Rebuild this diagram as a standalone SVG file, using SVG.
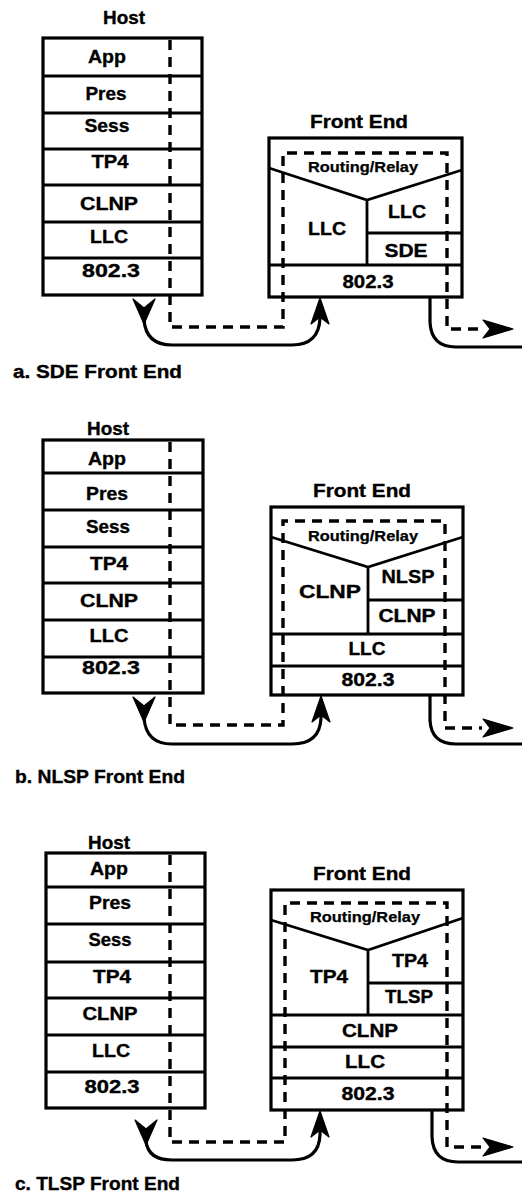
<svg xmlns="http://www.w3.org/2000/svg" width="522" height="1197" viewBox="0 0 522 1197">
  <style>
    .box { fill: none; stroke: #000; stroke-width: 3.2; }
    .sep { fill: none; stroke: #000; stroke-width: 2.8; }
    .t { font-family: "Liberation Sans", Arial, sans-serif; font-weight: bold; font-size: 18px; text-anchor: middle; fill: #000; stroke: #000; stroke-width: 0.35; }
    .rr { font-size: 14px; stroke-width: 0.25; }
    .cap { text-anchor: start; }
    .dash { fill: none; stroke: #000; stroke-width: 3.4; stroke-dasharray: 10 7; }
    .flow { fill: none; stroke: #000; stroke-width: 3.2; stroke-linecap: round; }
    .head { fill: #000; stroke: #000; stroke-width: 1.2; stroke-linejoin: round; }
  </style>
  <rect width="522" height="1197" fill="#fff"/>

  <!-- ===== a. SDE Front End ===== -->
  <g id="host-a">
    <text class="t" x="124" y="24" font-size="17" textLength="42" lengthAdjust="spacingAndGlyphs">Host</text>
    <rect class="box" x="43" y="38" width="159" height="257"/>
    <path class="sep" d="M43,76H202M43,113H202M43,149H202M43,185H202M43,222H202M43,258H202"/>
    <text class="t" x="107" y="63" textLength="38" lengthAdjust="spacingAndGlyphs">App</text>
    <text class="t" x="106" y="100" textLength="41" lengthAdjust="spacingAndGlyphs">Pres</text>
    <text class="t" x="107" y="132" textLength="45" lengthAdjust="spacingAndGlyphs">Sess</text>
    <text class="t" x="110" y="168" textLength="37" lengthAdjust="spacingAndGlyphs">TP4</text>
    <text class="t" x="109" y="210" textLength="58" lengthAdjust="spacingAndGlyphs">CLNP</text>
    <text class="t" x="109" y="243" textLength="38" lengthAdjust="spacingAndGlyphs">LLC</text>
    <text class="t" x="111" y="277" textLength="58" lengthAdjust="spacingAndGlyphs">802.3</text>
  </g>
  <g id="frontend-a">
    <text class="t" x="359" y="128" textLength="98" lengthAdjust="spacingAndGlyphs">Front End</text>
    <rect class="box" x="269" y="138" width="193" height="159"/>
    <path class="sep" d="M269,168L367,200L462,170M367,200V265M367,233H462M269,265H462"/>
    <text class="t rr" x="363" y="172" textLength="110" lengthAdjust="spacingAndGlyphs">Routing/Relay</text>
    <text class="t" x="327" y="235" textLength="38" lengthAdjust="spacingAndGlyphs">LLC</text>
    <text class="t" x="407" y="218" textLength="38" lengthAdjust="spacingAndGlyphs">LLC</text>
    <text class="t" x="406" y="257" textLength="43" lengthAdjust="spacingAndGlyphs">SDE</text>
    <text class="t" x="368" y="288" textLength="51" lengthAdjust="spacingAndGlyphs">802.3</text>
  </g>
  <text id="caption-a" class="t cap" x="13" y="378" textLength="169" lengthAdjust="spacingAndGlyphs">a. SDE Front End</text>

  <!-- ===== b. NLSP Front End ===== -->
  <g id="host-b">
    <text class="t" x="108" y="435" font-size="17" textLength="42" lengthAdjust="spacingAndGlyphs">Host</text>
    <rect class="box" x="43" y="440" width="160" height="253"/>
    <path class="sep" d="M43,473H203M43,510H203M43,547H203M43,583H203M43,620H203M43,657H203"/>
    <text class="t" x="107" y="465" textLength="38" lengthAdjust="spacingAndGlyphs">App</text>
    <text class="t" x="107" y="500" textLength="42" lengthAdjust="spacingAndGlyphs">Pres</text>
    <text class="t" x="108" y="533" textLength="44" lengthAdjust="spacingAndGlyphs">Sess</text>
    <text class="t" x="109" y="570" textLength="38" lengthAdjust="spacingAndGlyphs">TP4</text>
    <text class="t" x="109" y="607" textLength="58" lengthAdjust="spacingAndGlyphs">CLNP</text>
    <text class="t" x="109" y="642" textLength="39" lengthAdjust="spacingAndGlyphs">LLC</text>
    <text class="t" x="111" y="674" textLength="58" lengthAdjust="spacingAndGlyphs">802.3</text>
  </g>
  <g id="frontend-b">
    <text class="t" x="362" y="497" textLength="98" lengthAdjust="spacingAndGlyphs">Front End</text>
    <rect class="box" x="271" y="507" width="192" height="188"/>
    <path class="sep" d="M271,537L368,567L463,537M368,567V634M368,600H463M271,634H463M271,666H463"/>
    <text class="t rr" x="363" y="541" textLength="110" lengthAdjust="spacingAndGlyphs">Routing/Relay</text>
    <text class="t" x="330" y="598" textLength="62" lengthAdjust="spacingAndGlyphs">CLNP</text>
    <text class="t" x="408" y="583" textLength="53" lengthAdjust="spacingAndGlyphs">NLSP</text>
    <text class="t" x="407" y="622" textLength="57" lengthAdjust="spacingAndGlyphs">CLNP</text>
    <text class="t" x="367" y="655" textLength="37" lengthAdjust="spacingAndGlyphs">LLC</text>
    <text class="t" x="368" y="686" textLength="53" lengthAdjust="spacingAndGlyphs">802.3</text>
  </g>
  <text id="caption-b" class="t cap" x="15" y="783" textLength="170" lengthAdjust="spacingAndGlyphs">b. NLSP Front End</text>

  <!-- ===== c. TLSP Front End ===== -->
  <g id="host-c">
    <text class="t" x="109" y="849" font-size="17" textLength="42" lengthAdjust="spacingAndGlyphs">Host</text>
    <rect class="box" x="46" y="853" width="159" height="255"/>
    <path class="sep" d="M46,887H205M46,924H205M46,962H205M46,998H205M46,1035H205M46,1072H205"/>
    <text class="t" x="109" y="875" textLength="38" lengthAdjust="spacingAndGlyphs">App</text>
    <text class="t" x="110" y="909" textLength="42" lengthAdjust="spacingAndGlyphs">Pres</text>
    <text class="t" x="110" y="946" textLength="43" lengthAdjust="spacingAndGlyphs">Sess</text>
    <text class="t" x="112" y="983" textLength="38" lengthAdjust="spacingAndGlyphs">TP4</text>
    <text class="t" x="110" y="1020" textLength="55" lengthAdjust="spacingAndGlyphs">CLNP</text>
    <text class="t" x="111" y="1057" textLength="38" lengthAdjust="spacingAndGlyphs">LLC</text>
    <text class="t" x="112" y="1093" textLength="55" lengthAdjust="spacingAndGlyphs">802.3</text>
  </g>
  <g id="frontend-c">
    <text class="t" x="362" y="880" textLength="98" lengthAdjust="spacingAndGlyphs">Front End</text>
    <rect class="box" x="271" y="890" width="192" height="220"/>
    <path class="sep" d="M271,920L368,950L463,918M368,950V1015M368,983H463M271,1015H463M271,1047H463M271,1078H463"/>
    <text class="t rr" x="365" y="922" textLength="110" lengthAdjust="spacingAndGlyphs">Routing/Relay</text>
    <text class="t" x="329" y="983" textLength="38" lengthAdjust="spacingAndGlyphs">TP4</text>
    <text class="t" x="410" y="967" textLength="36" lengthAdjust="spacingAndGlyphs">TP4</text>
    <text class="t" x="409" y="1003" textLength="48" lengthAdjust="spacingAndGlyphs">TLSP</text>
    <text class="t" x="370" y="1037" textLength="56" lengthAdjust="spacingAndGlyphs">CLNP</text>
    <text class="t" x="365" y="1068" textLength="40" lengthAdjust="spacingAndGlyphs">LLC</text>
    <text class="t" x="368" y="1100" textLength="53" lengthAdjust="spacingAndGlyphs">802.3</text>
  </g>
  <text id="caption-c" class="t cap" x="15" y="1190" textLength="165" lengthAdjust="spacingAndGlyphs">c. TLSP Front End</text>

  <!-- ===== connectors: logical path (dashed) and physical path (solid) ===== -->
  <g id="connectors">
    <!-- a -->
    <path class="dash" d="M170,40V327H283V153H447V329H482"/>
    <polygon class="head" points="513,329 483,320 490,329 483,338"/>
    <path class="flow" d="M144,320Q146,345 172,345H292Q319,345 320,318V312"/>
    <polygon class="head" points="144,324 133,299 144,308 155,299"/>
    <polygon class="head" points="320,298 329,324 320,317 311,324"/>
    <path class="flow" d="M430,298V322Q431,347 456,347H522"/>

    <!-- b -->
    <path class="dash" d="M170,442V725H283V521H445V728H482"/>
    <polygon class="head" points="513,728 483,719 490,728 483,737"/>
    <path class="flow" d="M144,718Q146,744 172,744H292Q320,744 321,718V710"/>
    <polygon class="head" points="144,722 133,697 144,706 155,697"/>
    <polygon class="head" points="321,696 330,722 321,715 312,722"/>
    <path class="flow" d="M430,696V720Q431,744 456,744H522"/>

    <!-- c -->
    <path class="dash" d="M170,855V1142H285V903H447V1147H482"/>
    <polygon class="head" points="513,1147 483,1138 490,1147 483,1156"/>
    <path class="flow" d="M146,1141Q148,1160 172,1160H292Q319,1160 320,1135V1126"/>
    <polygon class="head" points="146,1145 135,1120 146,1129 157,1120"/>
    <polygon class="head" points="320,1111 329,1137 320,1130 311,1137"/>
    <path class="flow" d="M432,1111V1137Q433,1162 458,1162H522"/>
  </g>
</svg>
